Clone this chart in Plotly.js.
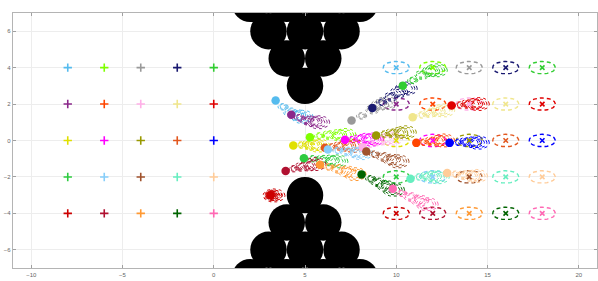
<!DOCTYPE html>
<html>
<head>
<meta charset="utf-8">
<script src="https://cdn.plot.ly/plotly-3.0.1.min.js"></script>
<style>html,body{margin:0;padding:0;background:#fff;}#chart{width:598px;height:281px;}</style>
</head>
<body>
<div id="chart"></div>
<script>
// ---- data ----
const robotColors = [
  '#55bbee','#7fff00','#999999','#191970','#32cd32',
  '#8b288b','#ff4500','#ffb0e8','#f0e68c','#e00000',
  '#e0e000','#ff00ff','#999900','#e2571e','#0000ff',
  '#2ecc40','#87cefa','#a0522d','#66eec0','#ffcc99',
  '#cc0000','#b01030','#ff9933','#006400','#ff69b4'
];
const startX = [-8,-6,-4,-2,0, -8,-6,-4,-2,0, -8,-6,-4,-2,0, -8,-6,-4,-2,0, -8,-6,-4,-2,0];
const startY = [4,4,4,4,4, 2,2,2,2,2, 0,0,0,0,0, -2,-2,-2,-2,-2, -4,-4,-4,-4,-4];
const goalX  = [10,12,14,16,18, 10,12,14,16,18, 10,12,14,16,18, 10,12,14,16,18, 10,12,14,16,18];
const goalY  = [4,4,4,4,4, 2,2,2,2,2, 0,0,0,0,0, -2,-2,-2,-2,-2, -4,-4,-4,-4,-4];
const curX = [3.39,5.27,7.55,8.69,10.36, 4.25,11.1,8.17,10.9,13.03, 4.36,7.19,8.9,6.09,12.92, 4.94,6.25,8.36,10.78,12.79, 3.12,3.94,5.82,8.1,9.81];
const curY = [2.19,0.18,1.1,1.79,3.01, 1.41,-0.13,-0.37,1.28,1.92, -0.27,0.04,0.27,-0.4,-0.13, -0.97,-0.5,-0.6,-2.1,-1.79, -3.01,-1.68,-1.33,-1.86,-2.65];
// predicted positions (4 steps ahead) per robot
const predX = [
  [3.8,4.2,4.55,4.85],[5.8,6.3,6.8,7.2],[8.1,8.7,9.1,9.45],[9.2,9.7,10.15,10.55],[10.9,11.4,11.9,12.2],
  [4.7,5.1,5.45,5.75],[11.5,11.9,12.3,12.6],[8.6,9.0,9.4,9.75],[11.4,11.8,12.2,12.6],[13.5,13.9,14.25,14.5],
  [4.8,5.15,5.45,5.75],[7.6,8.0,8.35,8.7],[9.35,9.75,10.15,10.5],[6.5,6.9,7.3,7.65],[13.4,13.8,14.2,14.5],
  [5.45,5.95,6.4,6.75],[6.8,7.3,7.75,8.1],[8.8,9.3,9.75,10.1],[11.25,11.65,12.0,12.3],[13.25,13.7,14.1,14.4],
  [3.15,3.2,3.25,3.3],[4.4,4.8,5.2,5.55],[6.3,6.8,7.3,7.75],[8.6,9.0,9.45,9.85],[10.3,10.8,11.3,11.7]
];
const predY = [
  [1.85,1.55,1.4,1.3],[0.25,0.3,0.3,0.3],[1.35,1.7,1.95,2.05],[2.1,2.4,2.65,2.85],[3.3,3.6,3.8,3.85],
  [1.25,1.1,1.05,1.0],[-0.1,-0.05,-0.02,0.0],[-0.2,-0.05,0.05,0.1],[1.4,1.5,1.6,1.65],[1.95,2.0,2.0,2.0],
  [-0.25,-0.25,-0.25,-0.28],[0.05,0.1,0.1,0.05],[0.35,0.4,0.42,0.45],[-0.35,-0.3,-0.3,-0.3],[-0.1,-0.08,-0.1,-0.12],
  [-1.0,-1.05,-1.1,-1.15],[-0.55,-0.6,-0.65,-0.7],[-0.75,-0.9,-1.05,-1.15],[-2.0,-1.97,-1.97,-2.02],[-1.85,-1.9,-1.95,-1.95],
  [-3.0,-3.0,-3.02,-3.02],[-1.55,-1.45,-1.38,-1.3],[-1.45,-1.55,-1.7,-1.85],[-2.1,-2.3,-2.5,-2.7],[-2.9,-3.1,-3.3,-3.5]
];
// uncertainty ellipse semi-axes at current position and each predicted step
const uncRx = [0.18,0.28,0.38,0.48,0.6];
const uncRy = [0.12,0.18,0.24,0.3,0.36];
const goalRx = 0.72, goalRy = 0.34;
// obstacles (radius 1)
const obstacleX = [5,4,6,3,5,7,2,4,6,8, 5,4,6,3,5,7,2,4,6,8];
const obstacleY = [3,4.5,4.5,6,6,6,7.5,7.5,7.5,7.5, -3,-4.5,-4.5,-6,-6,-6,-7.5,-7.5,-7.5,-7.5];
const obstacleR = 1;

// ---- build ----
function ellipse(cx, cy, rx, ry) {
  const xs = [], ys = [];
  const n = 48;
  for (let k = 0; k <= n; k++) {
    const t = 2 * Math.PI * k / n;
    xs.push(cx + rx * Math.cos(t));
    ys.push(cy + ry * Math.sin(t));
  }
  return [xs, ys];
}

const traces = [];
// goal ellipses (dashed)
for (let i = 0; i < robotColors.length; i++) {
  const [ex, ey] = ellipse(goalX[i], goalY[i], goalRx, goalRy);
  traces.push({x: ex, y: ey, mode: 'lines', type: 'scatter', hoverinfo: 'skip',
    line: {color: robotColors[i], width: 1.4, dash: '4px,3px'}, showlegend: false});
}
// predicted uncertainty ellipses (dotted)
const ringScale = [1, 0.78, 0.56];
for (let i = 0; i < robotColors.length; i++) {
  const cxs = [curX[i]].concat(predX[i]);
  const cys = [curY[i]].concat(predY[i]);
  let X = [], Y = [];
  for (let k = 0; k < cxs.length; k++) {
    const rings = k === 0 ? [1] : ringScale;
    rings.forEach(s => {
      const [ex, ey] = ellipse(cxs[k], cys[k], uncRx[k] * s, uncRy[k] * s);
      X = X.concat(ex, [null]);
      Y = Y.concat(ey, [null]);
    });
  }
  traces.push({x: X, y: Y, mode: 'lines', type: 'scatter', hoverinfo: 'skip',
    line: {color: robotColors[i], width: 1, dash: 'dot'}, showlegend: false});
}
// start markers
traces.push({x: startX, y: startY, mode: 'markers', type: 'scatter',
  marker: {symbol: 'cross-thin', size: 6, color: robotColors, line: {color: robotColors, width: 1.6}}, showlegend: false});
// goal markers
traces.push({x: goalX, y: goalY, mode: 'markers', type: 'scatter',
  marker: {symbol: 'x-thin', size: 4.5, color: robotColors, line: {color: robotColors, width: 1.6}}, showlegend: false});
// current positions
traces.push({x: curX, y: curY, mode: 'markers', type: 'scatter',
  marker: {symbol: 'circle', size: 8.5, color: robotColors, line: {width: 0}}, showlegend: false});

const shapes = obstacleX.map((cx, i) => ({
  type: 'circle', xref: 'x', yref: 'y', layer: 'between',
  x0: cx - obstacleR, x1: cx + obstacleR, y0: obstacleY[i] - obstacleR, y1: obstacleY[i] + obstacleR,
  fillcolor: '#000000', line: {width: 0}
}));

const axisCommon = {
  showline: true, mirror: 'ticks', linecolor: '#b4b4b4', linewidth: 1.3,
  ticks: 'inside', ticklen: 3, tickcolor: '#a0a0a0', tickwidth: 1,
  showgrid: true, gridcolor: '#ededed', gridwidth: 1, zeroline: false,
  tickfont: {family: 'Liberation Sans, Arial, sans-serif', size: 6, color: '#666'},
  fixedrange: true
};

const layout = {
  width: 598, height: 281,
  margin: {l: 13, r: 1, t: 13, b: 13, pad: 0},
  paper_bgcolor: '#ffffff', plot_bgcolor: '#ffffff',
  showlegend: false,
  xaxis: Object.assign({}, axisCommon, {range: [-11, 21], tickvals: [-10, -5, 0, 5, 10, 15, 20]}),
  yaxis: Object.assign({}, axisCommon, {range: [-7, 7], tickvals: [-6, -4, -2, 0, 2, 4, 6]}),
  shapes: shapes
};

Plotly.newPlot('chart', traces, layout, {displayModeBar: false, staticPlot: true});
</script>
</body>
</html>
